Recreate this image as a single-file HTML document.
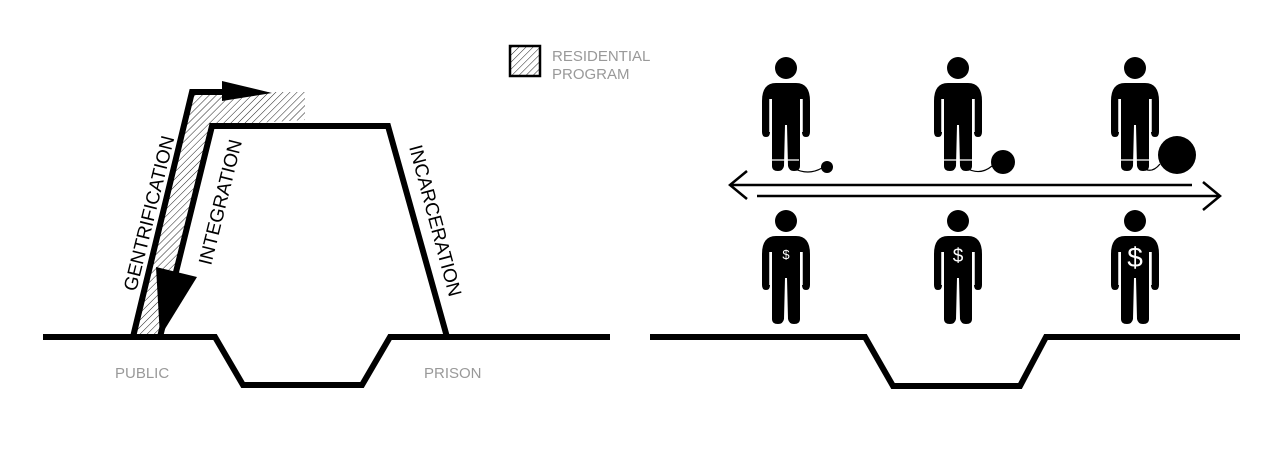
<!DOCTYPE html>
<html><head><meta charset="utf-8"><style>
html,body{margin:0;padding:0;background:#fff;width:1280px;height:461px;overflow:hidden}
svg{display:block}
text{font-family:"Liberation Sans",sans-serif}
</style></head><body>
<svg width="1280" height="461" viewBox="0 0 1280 461">
<defs>
<pattern id="h" width="5" height="5" patternUnits="userSpaceOnUse" patternTransform="rotate(45)">
<rect width="5" height="5" fill="#fff"/><line x1="0" y1="0" x2="0" y2="5" stroke="#222" stroke-width="1"/>
</pattern>
<g id="fig">
<circle cx="0" cy="-47" r="11"/>
<path d="M-24,-14 Q-24,-32 -10,-32 L10,-32 Q24,-32 24,-14 L24,17 Q24,22 20,22 Q16,22 16,17 L16,-16 L14,-16 L14,51 Q14,56 8,56 Q3,56 2,51 L1,10 L-1,10 L-2,51 Q-3,56 -8,56 Q-14,56 -14,51 L-14,-16 L-16,-16 L-16,17 Q-16,22 -20,22 Q-24,22 -24,17 Z"/>
<line x1="-16" y1="-16" x2="-16" y2="17" stroke="#fff" stroke-width="1.5"/>
<line x1="16" y1="-16" x2="16" y2="17" stroke="#fff" stroke-width="1.5"/>
</g>
</defs>
<polygon points="190,92 305,92 305,120 212,126 160,337 133,337" fill="url(#h)"/>
<polyline points="43,337 215,337 243,385 362,385 390,337 610,337" fill="none" stroke="#000" stroke-width="6"/>
<polyline points="160,337 212,126 388,126 447,337" fill="none" stroke="#000" stroke-width="6"/>
<polyline points="133,337 192,92 232,92" fill="none" stroke="#000" stroke-width="6"/>
<polygon points="222,81 272,93 222,101" fill="#000"/>
<polygon points="156,267 197,277 160,337" fill="#000"/>
<text transform="translate(136,292) rotate(-76)" font-size="19" fill="#000">GENTRIFICATION</text>
<text transform="translate(211,266) rotate(-76)" font-size="19" fill="#000">INTEGRATION</text>
<text transform="translate(409,147) rotate(75)" font-size="19" fill="#000">INCARCERATION</text>
<rect x="510" y="46" width="30" height="30" fill="url(#h)" stroke="#000" stroke-width="2.5"/>
<text x="552" y="61" font-size="15" fill="#999">RESIDENTIAL</text>
<text x="552" y="79" font-size="15" fill="#999">PROGRAM</text>
<text x="115" y="378" font-size="15" fill="#999">PUBLIC</text>
<text x="424" y="378" font-size="15" fill="#999">PRISON</text>
<polyline points="650,337 865,337 893,386 1020,386 1046,337 1240,337" fill="none" stroke="#000" stroke-width="6"/>
<g fill="#000">
<use href="#fig" transform="translate(786,115)"/>
<use href="#fig" transform="translate(958,115)"/>
<use href="#fig" transform="translate(1135,115)"/>
<use href="#fig" transform="translate(786,268)"/>
<use href="#fig" transform="translate(958,268)"/>
<use href="#fig" transform="translate(1135,268)"/>
<circle cx="827" cy="167" r="6"/>
<circle cx="1003" cy="162" r="12"/>
<circle cx="1177" cy="155" r="19"/>
</g>
<g stroke="#000" stroke-width="1.2" fill="none">
<path d="M793,168 Q808,176 822,168"/><path d="M966,168 Q980,176 992,166"/><path d="M1143,168 Q1152,174 1160,164"/>
<line x1="772" y1="160" x2="799" y2="160" stroke="#fff"/><line x1="944" y1="160" x2="972" y2="160" stroke="#fff"/><line x1="1121" y1="160" x2="1149" y2="160" stroke="#fff"/>
</g>
<text x="786" y="259" font-size="13" fill="#fff" text-anchor="middle">$</text>
<text x="958" y="262" font-size="19" fill="#fff" text-anchor="middle">$</text>
<text x="1135" y="267" font-size="28" fill="#fff" text-anchor="middle">$</text>
<g stroke="#000" stroke-width="2.5" fill="none">
<line x1="732" y1="185" x2="1192" y2="185"/>
<polyline points="747,171 730,185 747,199"/>
<line x1="757" y1="196" x2="1218" y2="196"/>
<polyline points="1203,182 1220,196 1203,210"/>
</g>
</svg>
</body></html>
